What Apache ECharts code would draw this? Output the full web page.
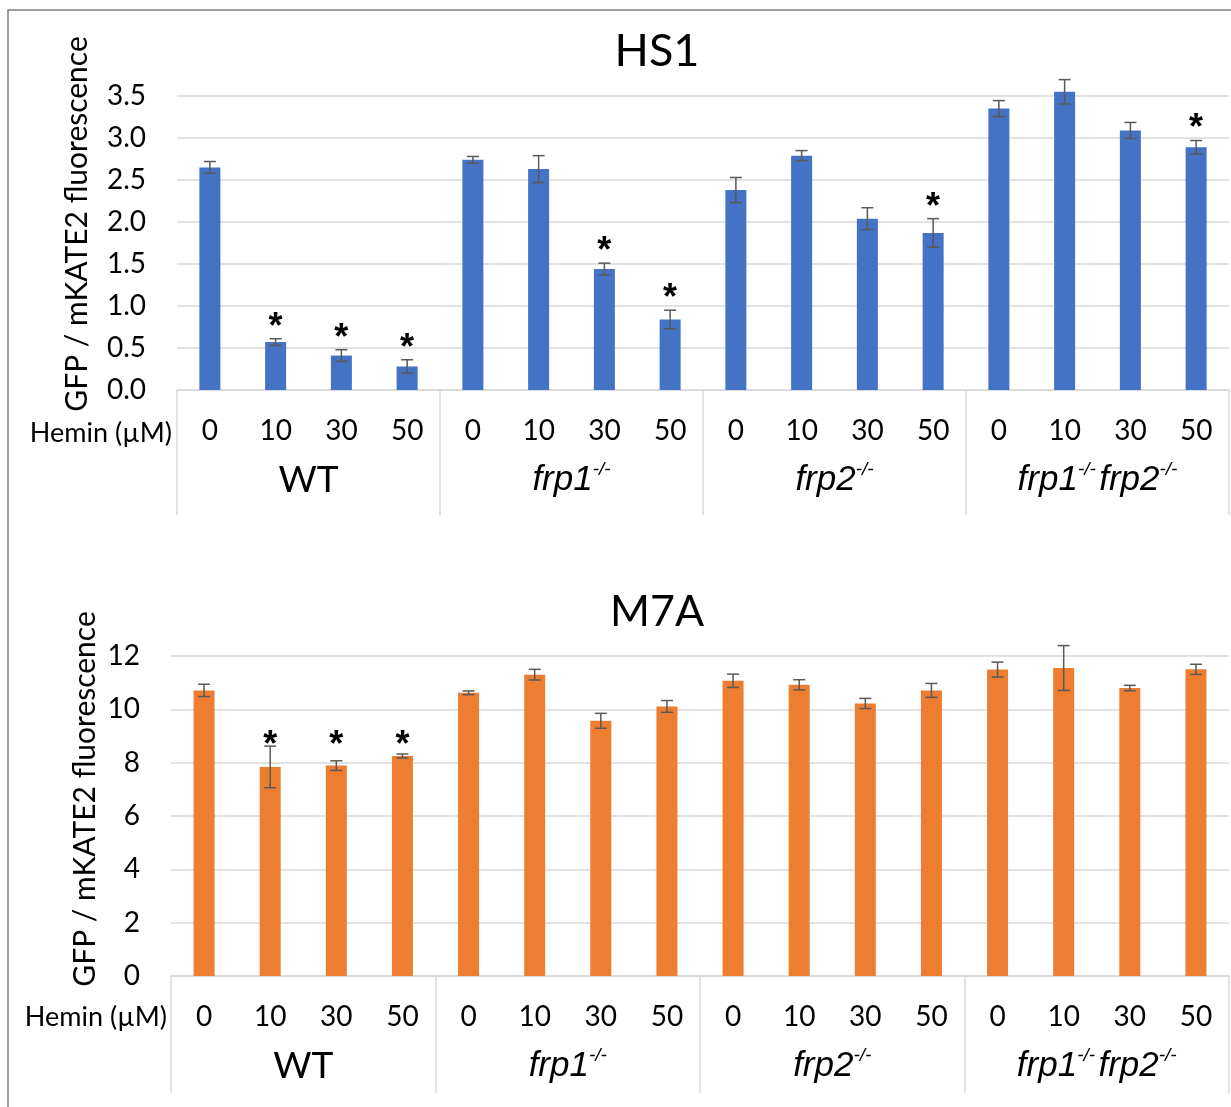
<!DOCTYPE html>
<html>
<head>
<meta charset="utf-8">
<script src="https://cdn.jsdelivr.net/npm/echarts@6/dist/echarts.min.js"></script>
<style>
  html, body { margin: 0; padding: 0; background: #fff; }
  #chart { width: 1231px; height: 1107px; }
</style>
</head>
<body>
<div id="chart"></div>
<script>
"use strict";

/* ── 数据 ── */
const hemin      = ["0", "10", "30", "50"];
const groups     = ["WT", "frp1", "frp2", "frp1frp2"];
const categories = groups.flatMap(g => hemin.map(h => g + "|" + h));

const hs1Mean = [2.65, 0.57, 0.41, 0.28,  2.74, 2.63, 1.44, 0.84,  2.38, 2.79, 2.04, 1.87,  3.35, 3.55, 3.09, 2.89];
const hs1Err  = [0.07, 0.04, 0.07, 0.08,  0.04, 0.16, 0.07, 0.11,  0.15, 0.06, 0.13, 0.17,  0.095, 0.145, 0.095, 0.08];
const hs1Star = [0, 1, 1, 1,  0, 0, 1, 1,  0, 0, 0, 1,  0, 0, 0, 1];

const m7aMean = [10.71, 7.84, 7.89, 8.25,  10.62, 11.30, 9.57, 10.11,  11.07, 10.92, 10.22, 10.71,  11.49, 11.55, 10.80, 11.50];
const m7aErr  = [0.23, 0.78, 0.18, 0.075,  0.07, 0.20, 0.28, 0.22,  0.25, 0.19, 0.19, 0.26,  0.28, 0.84, 0.10, 0.19];
const m7aStar = [0, 1, 1, 1,  0, 0, 0, 0,  0, 0, 0, 0,  0, 0, 0, 0];

const GRID_C  = "#d9d9d9";
const ERR_C   = "#595959";
const FONT    = "Lato";

const groupLabel = {
  WT:       "{n|WT}",
  frp1:     "{i|frp1}{s|-/-}",
  frp2:     "{i|frp2}{s|-/-}",
  frp1frp2: "{i|frp1}{s|-/-} {i|frp2}{s|-/-}"
};

/* 误差线 + 星号 数据: [x, mean, err, star, starBase] */
function errData(mean, err, star, shared) {
  return mean.map((m, i) => {
    let base = m + err[i];
    if (shared && star[i]) {
      const g = Math.floor(i / 4);
      base = Math.max(...mean.map((v, j) => (Math.floor(j / 4) === g && star[j]) ? v + err[j] : -Infinity));
    }
    return [i, m, err[i], star[i], base];
  });
}

function errRenderer(gap) {
  return (params, api) => {
    const x = api.value(0), m = api.value(1), e = api.value(2);
    const top = api.coord([x, m + e]);
    const bot = api.coord([x, m - e]);
    const w = 6;
    const st = { stroke: ERR_C, lineWidth: 1.5 };
    const kids = [
      { type: "line", shape: { x1: top[0], y1: top[1], x2: bot[0], y2: bot[1] }, style: st },
      { type: "line", shape: { x1: top[0] - w, y1: top[1], x2: top[0] + w, y2: top[1] }, style: st },
      { type: "line", shape: { x1: bot[0] - w, y1: bot[1], x2: bot[0] + w, y2: bot[1] }, style: st }
    ];
    if (api.value(3)) {
      const s = api.coord([x, api.value(4)]);
      kids.push({
        type: "text", x: s[0], y: s[1] - gap + 9,
        style: { text: "*", fill: "#000", font: "bold 36px 'Liberation Sans'", align: "center", verticalAlign: "middle" }
      });
    }
    return { type: "group", children: kids };
  };
}

function catAxis(grid, margin) {
  return {
    type: "category", gridIndex: grid, data: categories, position: "bottom",
    axisLine: { lineStyle: { color: GRID_C, width: 1.5 } },
    axisTick: { show: false },
    axisLabel: { margin: margin, fontFamily: FONT, fontSize: 28, color: "#000", formatter: v => v.split("|")[1] }
  };
}

function groupAxis(grid, tickLen, margin) {
  return {
    type: "category", gridIndex: grid, data: groups, position: "bottom",
    axisLine: { show: false },
    axisTick: { show: true, length: tickLen, lineStyle: { color: GRID_C, width: 1.5 } },
    splitLine: { show: false },
    axisLabel: {
      margin: margin, formatter: v => groupLabel[v],
      rich: {
        n: { fontFamily: FONT, fontSize: 37, color: "#000", lineHeight: 40 },
        i: { fontFamily: "Liberation Sans", fontStyle: "italic", fontSize: 35, color: "#000", lineHeight: 40 },
        s: { fontFamily: "Liberation Sans", fontStyle: "italic", fontSize: 19, color: "#000", verticalAlign: "top", lineHeight: 20 }
      }
    }
  };
}

function valAxis(grid, max, interval, digits) {
  return {
    type: "value", gridIndex: grid, min: 0, max: max, interval: interval,
    axisLine: { show: false }, axisTick: { show: false },
    axisLabel: { margin: 31, fontFamily: FONT, fontSize: 28, color: "#000", formatter: v => v.toFixed(digits) },
    splitLine: { lineStyle: { color: GRID_C, width: 1.5 } }
  };
}

const chart = echarts.init(document.getElementById("chart"));
chart.setOption({
  animation: false,
  backgroundColor: "#fff",
  title: [
    { text: "HS1", left: 652, top: 24, textAlign: "center", textStyle: { fontFamily: FONT, fontSize: 45, fontWeight: "normal", color: "#000" } },
    { text: "M7A", left: 652, top: 586, textAlign: "center", textStyle: { fontFamily: FONT, fontSize: 43, fontWeight: "normal", color: "#000" } }
  ],
  grid: [
    { left: 177, top: 96, width: 1052, height: 294 },
    { left: 171, top: 656, width: 1058, height: 320 }
  ],
  xAxis: [
    catAxis(0, 27), groupAxis(0, 125, 70),
    catAxis(1, 27), groupAxis(1, 117, 70)
  ],
  yAxis: [
    valAxis(0, 3.5, 0.5, 1),
    valAxis(1, 12, 2, 0)
  ],
  series: [
    { type: "bar", xAxisIndex: 0, yAxisIndex: 0, data: hs1Mean, barWidth: 21, clip: false, itemStyle: { color: "#4472C4" } },
    { type: "custom", xAxisIndex: 0, yAxisIndex: 0, data: errData(hs1Mean, hs1Err, hs1Star, false), renderItem: errRenderer(20), clip: false, z: 5 },
    { type: "bar", xAxisIndex: 2, yAxisIndex: 1, data: m7aMean, barWidth: 21, clip: false, itemStyle: { color: "#ED7D31" } },
    { type: "custom", xAxisIndex: 2, yAxisIndex: 1, data: errData(m7aMean, m7aErr, m7aStar, true), renderItem: errRenderer(9), clip: false, z: 5 }
  ],
  graphic: [
    { type: "rect", shape: { x: 8, y: 10, width: 1300, height: 1200 }, style: { fill: "none", stroke: "#7f7f7f", lineWidth: 1.5 }, z: -1 },
    { type: "text", x: 77, y: 224, rotation: Math.PI / 2,
      style: { text: "GFP / mKATE2 fluorescence", fontFamily: FONT, fontSize: 30, fill: "#000", align: "center", verticalAlign: "middle" } },
    { type: "text", x: 85, y: 799, rotation: Math.PI / 2,
      style: { text: "GFP / mKATE2 fluorescence", fontFamily: FONT, fontSize: 30, fill: "#000", align: "center", verticalAlign: "middle" } },
    { type: "text", x: 172, y: 433,
      style: { text: "Hemin (\u00b5M)", fontFamily: FONT, fontSize: 27, fill: "#000", align: "right", verticalAlign: "middle" } },
    { type: "text", x: 167, y: 1017,
      style: { text: "Hemin (\u00b5M)", fontFamily: FONT, fontSize: 27, fill: "#000", align: "right", verticalAlign: "middle" } }
  ]
});
</script>
</body>
</html>
